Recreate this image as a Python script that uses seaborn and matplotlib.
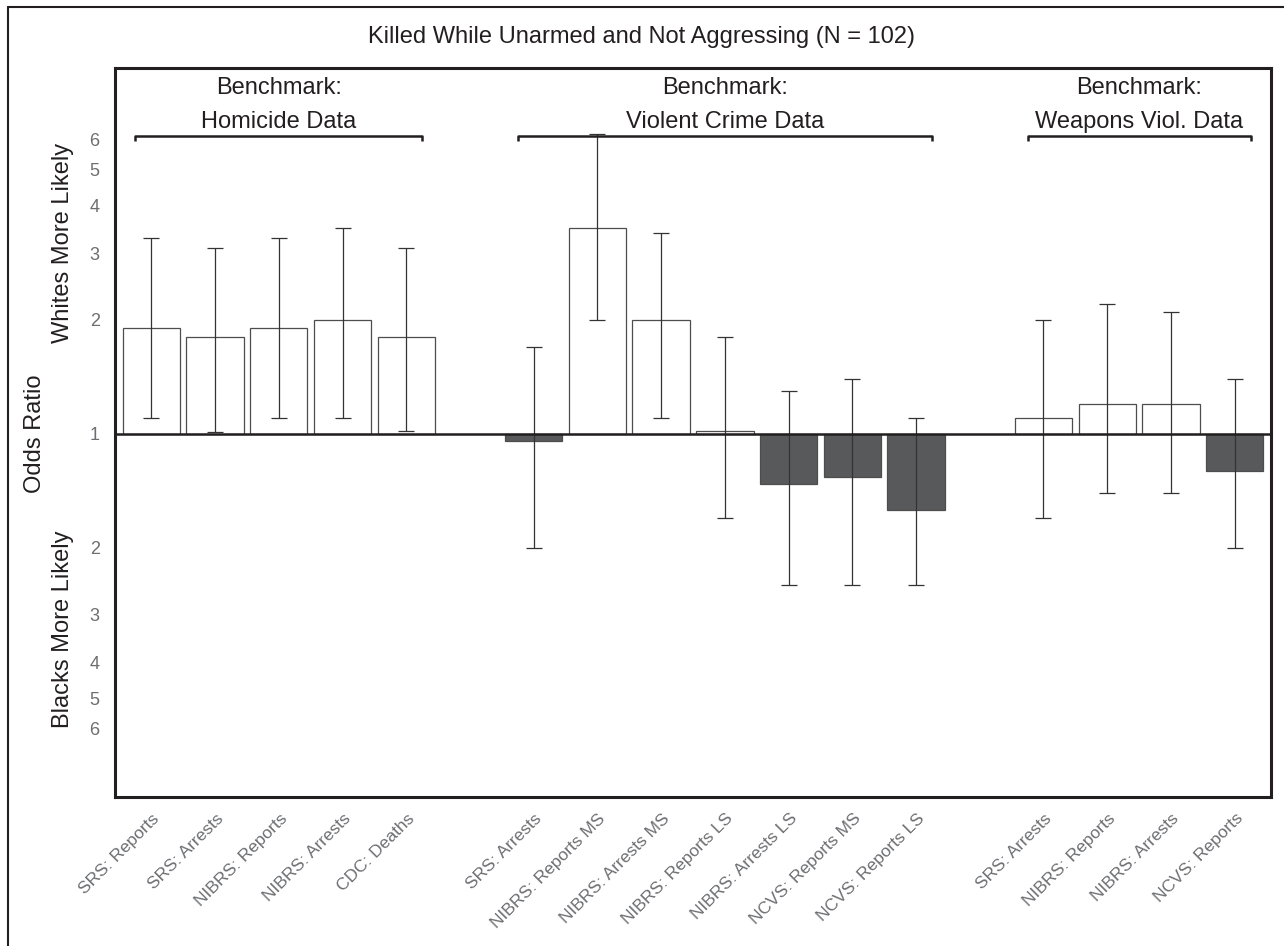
import numpy as np
import pandas as pd
import seaborn as sns
import matplotlib.pyplot as plt
import matplotlib.transforms as mtransforms
from matplotlib.lines import Line2D

# ---------------- data (odds ratios: >1 whites more likely, <1 blacks more likely)
group_names = ["Homicide Data", "Violent Crime Data", "Weapons Viol. Data"]

homicide_labels = ["SRS: Reports", "SRS: Arrests", "NIBRS: Reports", "NIBRS: Arrests", "CDC: Deaths"]
homicide_or = [1.90, 1.80, 1.90, 2.00, 1.80]
homicide_lo = [1.10, 1.01, 1.10, 1.10, 1.02]
homicide_hi = [3.30, 3.10, 3.30, 3.50, 3.10]

violent_labels = ["SRS: Arrests", "NIBRS: Reports MS", "NIBRS: Arrests MS", "NIBRS: Reports LS",
                  "NIBRS: Arrests LS", "NCVS: Reports MS", "NCVS: Reports LS"]
violent_or = [0.96, 3.50, 2.00, 1.02, 0.74, 0.77, 0.63]
violent_lo = [0.50, 2.00, 1.10, 0.60, 0.40, 0.40, 0.40]
violent_hi = [1.70, 6.20, 3.40, 1.80, 1.30, 1.40, 1.10]

weapons_labels = ["SRS: Arrests", "NIBRS: Reports", "NIBRS: Arrests", "NCVS: Reports"]
weapons_or = [1.10, 1.20, 1.20, 0.80]
weapons_lo = [0.60, 0.70, 0.70, 0.50]
weapons_hi = [2.00, 2.20, 2.10, 1.40]

tick_values = [6, 5, 4, 3, 2, 1, 2, 3, 4, 5, 6]
tick_signs = [1, 1, 1, 1, 1, 0, -1, -1, -1, -1, -1]

# ---------------- assemble
groups = [
    (homicide_labels, homicide_or, homicide_lo, homicide_hi),
    (violent_labels, violent_or, violent_lo, violent_hi),
    (weapons_labels, weapons_or, weapons_lo, weapons_hi),
]
rows = []
group_spans = []
start = 0
for gi, (labs, ors, los, his) in enumerate(groups):
    for k in range(len(labs)):
        rows.append(dict(pos=start + k, label=labs[k], OR=ors[k], lo=los[k], hi=his[k], group=gi))
    group_spans.append((start, start + len(labs) - 1))
    start += len(labs) + 1
df = pd.DataFrame(rows)
df["y"] = np.log(df["OR"])
df["ylo"] = np.log(df["lo"])
df["yhi"] = np.log(df["hi"])
df["side"] = np.where(df["OR"] >= 1, "white", "black")

# ---------------- figure
sns.set_theme(style="white")
plt.rcParams["font.family"] = ["Liberation Sans", "DejaVu Sans"]

W, H = 1284, 946
fig = plt.figure(figsize=(W / 100, H / 100), dpi=100)
fig.patch.set_facecolor("white")
ax = fig.add_axes([115 / W, 1 - 797 / H, (1271 - 115) / W, (797 - 68) / H])

sns.barplot(data=df, x="pos", y="y", hue="side",
            palette={"white": "#ffffff", "black": "#58595b"},
            dodge=False, native_scale=True, width=0.9,
            edgecolor="#4d4d4d", linewidth=0.9, errorbar=None, legend=False, ax=ax)

ax.errorbar(df["pos"], df["y"],
            yerr=[df["y"] - df["ylo"], df["yhi"] - df["y"]],
            fmt="none", ecolor="#333333", elinewidth=0.9, capsize=5.8, capthick=0.9, zorder=5)

ax.axhline(0, color="#231f20", lw=1.8, zorder=6)

ax.set_xlim(-0.57, df["pos"].max() + 0.57)
ax.set_ylim(-2.207, 2.225)

# y ticks
yt = [s * np.log(v) if s != 0 else 0.0 for v, s in zip(tick_values, tick_signs)]
ax.set_yticks(yt)
ax.set_yticklabels([str(v) for v in tick_values], color="#6d6e71", fontsize=13)
ax.tick_params(axis="y", length=0, pad=11)

# x ticks
ax.set_xticks(df["pos"])
ax.set_xticklabels(df["label"], rotation=45, ha="right", va="top",
                   rotation_mode="anchor", color="#6d6e71", fontsize=12.5)
ax.tick_params(axis="x", length=0, pad=10)
offset = mtransforms.ScaledTranslation(0.5 / 100, 0, fig.dpi_scale_trans)
for lab in ax.get_xticklabels():
    lab.set_transform(lab.get_transform() + offset)

ax.set_xlabel("")
ax.set_ylabel("")
for sp in ax.spines.values():
    sp.set_visible(True)
    sp.set_color("#231f20")
    sp.set_linewidth(2.2)

# brackets and group titles
br_y = 1.81
for (a, b), name in zip(group_spans, group_names):
    x0, x1 = a - 0.25, b + 0.25
    ax.plot([x0, x0, x1, x1], [br_y - 0.03, br_y, br_y, br_y - 0.03],
            color="#231f20", lw=1.8, solid_capstyle="butt", clip_on=False, zorder=7)
    cx = (a + b) / 2
    ax.text(cx, 2.067, "Benchmark:", ha="center", va="baseline", fontsize=17, color="#231f20")
    ax.text(cx, 1.858, name, ha="center", va="baseline", fontsize=17, color="#231f20")

# title
fig.text(0.5, 1 - 43.3 / H, "Killed While Unarmed and Not Aggressing (N = 102)",
         ha="center", va="baseline", fontsize=17, color="#231f20")

# y-axis labels
bt = mtransforms.blended_transform_factory(fig.transFigure, ax.transData)
fig.text(35 / W, 0.0, "Odds Ratio", rotation=90, ha="center", va="center",
         fontsize=17, color="#231f20", transform=bt)
fig.text(63 / W, 1.16, "Whites More Likely", rotation=90, ha="center", va="center",
         fontsize=17, color="#231f20", transform=bt)
fig.text(63 / W, -1.19, "Blacks More Likely", rotation=90, ha="center", va="center",
         fontsize=17, color="#231f20", transform=bt)

# outer frame (top and left visible)
fig.add_artist(Line2D([7.5 / W, 7.5 / W], [0, 1 - 7.5 / H], transform=fig.transFigure,
                      color="#231f20", lw=1.5))
fig.add_artist(Line2D([7.5 / W, 1], [1 - 7.5 / H, 1 - 7.5 / H], transform=fig.transFigure,
                      color="#231f20", lw=1.5))

fig.savefig("out.png", dpi=100)
